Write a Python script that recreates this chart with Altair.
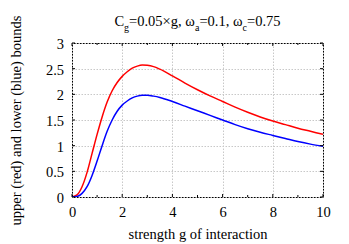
import altair as alt
import pandas as pd

# ---- data ----
g_vals = [0, 0.2, 0.4, 0.6, 0.8, 1.0, 1.2, 1.4, 1.6, 1.8, 2.0, 2.2, 2.4, 2.6, 2.8, 3.0,
          3.25, 3.5, 4.0, 4.5, 5.0, 5.5, 6.0, 6.5, 7.0, 7.5, 8.0, 8.5, 9.0, 9.5, 10.0]
upper = [0, 0.04, 0.20, 0.48, 0.85, 1.22, 1.56, 1.85, 2.07, 2.23, 2.35, 2.44, 2.51, 2.55, 2.57, 2.565,
         2.54, 2.49, 2.36, 2.22, 2.09, 1.97, 1.86, 1.75, 1.65, 1.56, 1.48, 1.41, 1.34, 1.28, 1.22]
lower = [0, 0.01, 0.07, 0.20, 0.42, 0.70, 1.00, 1.28, 1.50, 1.67, 1.79, 1.87, 1.93, 1.965, 1.98, 1.98,
         1.965, 1.94, 1.86, 1.77, 1.68, 1.59, 1.50, 1.41, 1.33, 1.26, 1.20, 1.14, 1.08, 1.03, 0.99]
x_major = [0, 2, 4, 6, 8, 10]
x_minor = [1, 3, 5, 7, 9]
y_major = [0, 0.5, 1, 1.5, 2, 2.5, 3]

W, H = 251, 154
FONT = "Liberation Serif"
FS = 14.5
SUB = 10

n = len(g_vals)
df = pd.DataFrame({
    "g": g_vals * 2,
    "v": upper + lower,
    "s": ["upper"] * n + ["lower"] * n,
})

x_scale = alt.Scale(domain=[0, 10], nice=False, zero=False)
y_scale = alt.Scale(domain=[0, 3], nice=False, zero=False)

x_axis = alt.Axis(values=x_major, title="strength g of interaction", ticks=False, tickSize=0,
                  domain=False, labelFlush=False, labelPadding=19.5, labelBaseline="alphabetic",
                  titleY=41, titleBaseline="alphabetic", grid=True,
                  labelFont=FONT, titleFont=FONT, labelFontSize=FS, titleFontSize=FS,
                  labelColor="black", titleColor="black", titleFontWeight="normal")
y_axis = alt.Axis(values=y_major, format="~g", title="upper (red) and lower (blue) bounds",
                  ticks=False, tickSize=0, domain=False, labelFlush=False, labelPadding=8.5,
                  labelBaseline="alphabetic", labelOffset=5.5,
                  titleX=-52, titleBaseline="alphabetic", titleAngle=-90, grid=True,
                  labelFont=FONT, titleFont=FONT, labelFontSize=FS, titleFontSize=FS,
                  labelColor="black", titleColor="black", titleFontWeight="normal")


def X(field):
    return alt.X(field, type="quantitative", scale=x_scale, axis=x_axis)


def Y(field):
    return alt.Y(field, type="quantitative", scale=y_scale, axis=y_axis)


lines = alt.Chart(df).mark_line(interpolate="monotone", strokeWidth=1.5, clip=True).encode(
    x=X("g"),
    y=Y("v"),
    color=alt.Color("s:N", scale=alt.Scale(domain=["upper", "lower"], range=["#ff0000", "#0000ff"]),
                    legend=None),
    detail="s:N",
)

layers = [lines]


# tick marks pointing inward on all four sides
def xticks(vals, ln):
    d = pd.DataFrame({"t": vals})
    b = alt.Chart(d).mark_rule(color="black", strokeWidth=1)
    return [b.encode(x=X("t"), y=alt.value(H), y2=alt.value(H - ln)),
            b.encode(x=X("t"), y=alt.value(0), y2=alt.value(ln))]


def yticks(vals, ln):
    d = pd.DataFrame({"t": vals})
    b = alt.Chart(d).mark_rule(color="black", strokeWidth=1)
    return [b.encode(y=Y("t"), x=alt.value(0), x2=alt.value(ln)),
            b.encode(y=Y("t"), x=alt.value(W), x2=alt.value(W - ln))]


layers += xticks(x_major, 3) + xticks(x_minor, 2) + yticks(y_major, 3)

# title with subscripts, composed from pieces
title_parts = [("C", False), ("g", True), ("=0.05×g, ω", False), ("a", True),
               ("=0.1, ω", False), ("c", True), ("=0.75", False)]
em = {"C": .667, "g": .5, "=": .564, ".": .25, "×": .564, ",": .25, " ": .25,
      "ω": .667, "a": .444, "c": .444}
for d_ in "0123456789":
    em[d_] = .5


def width(txt, size):
    return sum(em.get(ch, .5) for ch in txt) * size


total = sum(width(t, SUB if s else FS) for t, s in title_parts)
xpos = W / 2 - total / 2
base_y = -16.7
one = pd.DataFrame({"k": [0]})
for t, s in title_parts:
    size = SUB if s else FS
    layers.append(
        alt.Chart(one).mark_text(text=t, align="left", baseline="alphabetic", font=FONT,
                                 fontSize=size, color="black").encode(
            x=alt.value(xpos), y=alt.value(base_y + (4.2 if s else 0)))
    )
    xpos += width(t, size)

chart = alt.layer(*layers).properties(
    width=W, height=H,
    background="white",
    autosize=alt.AutoSizeParams(type="none"),
    padding={"left": 64, "top": 35, "right": 18, "bottom": 45},
).configure_view(
    stroke="black", strokeWidth=1
).configure_axis(
    labelFont=FONT, titleFont=FONT, labelFontSize=FS, titleFontSize=FS,
    labelColor="black", titleColor="black", titleFontWeight="normal",
    gridColor="#c8c8c8", gridDash=[1.5, 1.5], gridWidth=1,
    labelOverlap=False,
)

chart.save("out.html", embed_options={"renderer": "svg", "actions": False})
